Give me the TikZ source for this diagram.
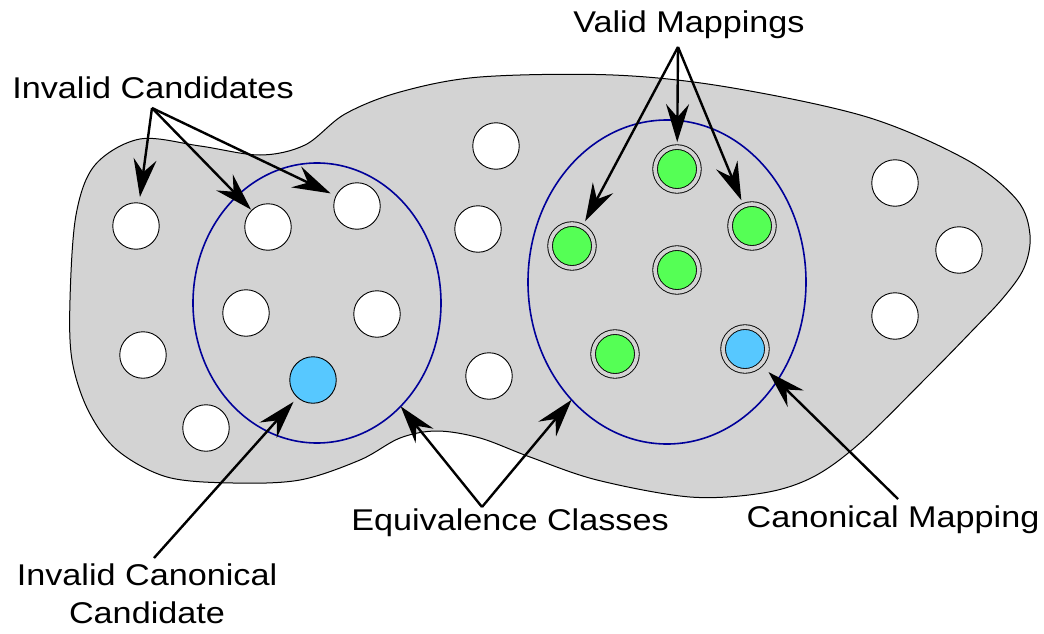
\documentclass[tikz,border=0pt]{standalone}
\usepackage{fontspec}
\newfontfamily\lblfont[FakeStretch=1.14]{Liberation Sans}
\usetikzlibrary{shapes.geometric,arrows.meta}
\definecolor{blobgray}{HTML}{D3D3D3}
\definecolor{classblue}{HTML}{000099}
\definecolor{validgreen}{HTML}{55FF55}
\definecolor{canonblue}{HTML}{57C8FF}
\begin{document}
\begin{tikzpicture}[x=1pt,y=-1pt,
  lbl/.style={font=\lblfont\fontsize{30}{36}\selectfont, inner sep=0pt, anchor=base},
  cand/.style={circle, draw, line width=0.9pt, fill=white, minimum size=46.5pt, inner sep=0pt, outer sep=0pt},
  mapping/.style={circle, draw, line width=0.9pt, double=blobgray, double distance=3.8pt,
    fill=validgreen, minimum size=43.8pt, inner sep=0pt, outer sep=0pt},
  eqclass/.style={ellipse, draw=classblue, line width=1.6pt, inner sep=0pt, outer sep=0pt},
  ptr/.style={line width=2.4pt, -{Stealth[length=38pt,width=23pt,inset=13pt]}}
]
\useasboundingbox (0,0) rectangle (1044,634);

% the search space
\filldraw[fill=blobgray, draw=black, line width=1pt]
  plot[smooth cycle, tension=0.55] coordinates {
    (70,300) (76,215) (95,165) (140,139) (200,146) (260,155) (305,145)
    (345,114) (400,92) (480,77) (613,75) (727,87) (867,117) (967,160)
    (1017,200) (1030,235) (1024,268) (1003,298) (970,333) (927,377)
    (860,443) (813,477) (763,493) (690,497) (597,480) (530,457) (480,438)
    (437,431) (400,438) (360,460) (300,480) (233,483) (167,477) (117,450)
    (88,410) (72,360)};

% equivalence classes
\node[eqclass, minimum width=248pt, minimum height=280pt] (eqL) at (317,303) {};
\node[eqclass, minimum width=278pt, minimum height=324pt] (eqR) at (667,282) {};

% invalid candidates
\node[cand] (c1) at (136,226) {};
\node[cand] (c2) at (268,227) {};
\node[cand] (c3) at (357,206) {};
\node[cand] (c4) at (143,355) {};
\node[cand] (c5) at (246,313) {};
\node[cand] (c6) at (377,314) {};
\node[cand] (c7) at (206,428) {};
\node[cand] (c8) at (496,146) {};
\node[cand] (c9) at (478,229) {};
\node[cand] (c10) at (489,376) {};
\node[cand] (c11) at (895,183) {};
\node[cand] (c12) at (959,250) {};
\node[cand] (c13) at (895,316) {};
\node[cand, fill=canonblue] (bc) at (313,380) {};

% valid mappings
\node[mapping] (g1) at (677,169) {};
\node[mapping] (g2) at (572,246) {};
\node[mapping] (g3) at (752,226) {};
\node[mapping] (g4) at (677,270) {};
\node[mapping] (g5) at (615,354) {};
\node[mapping, fill=canonblue] (gc) at (745,349) {};

% labels
\node[lbl] (vm) at (689,33) {Valid Mappings};
\node[lbl] (ic) at (153,98) {Invalid Candidates};
\node[lbl] (ec) at (510,530) {Equivalence Classes};
\node[lbl] (cm) at (893,527) {Canonical Mapping};
\node[lbl] (icc1) at (147,585) {Invalid Canonical};
\node[lbl] (icc2) at (147,623) {Candidate};

\coordinate (icA) at (152,108);
\coordinate (vmA) at (678,47);
\coordinate (ecA) at (482,507);
\coordinate (cmA) at (898,499);
\coordinate (iccA) at (154,558);

% pointers
\draw[ptr, shorten >=6pt] (icA) -- (c1);
\draw[ptr, shorten >=1pt] (icA) -- (c2);
\draw[ptr, shorten >=6pt] (icA) -- (c3);
\draw[ptr, shorten >=5pt] (vmA) -- (g1);
\draw[ptr, shorten >=6pt] (vmA) -- (g2);
\draw[ptr, shorten >=6pt] (vmA) -- (g3);
\draw[ptr] (ecA) -- (eqL.-51);
\draw[ptr] (ecA) -- (eqR.-129);
\draw[ptr, shorten >=11pt] (cmA) -- (gc);
\draw[ptr, shorten >=6pt] (iccA) -- (bc);
\end{tikzpicture}
\end{document}
